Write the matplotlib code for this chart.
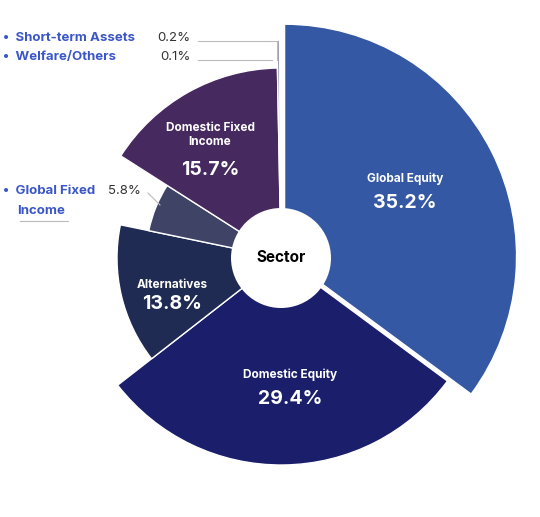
import numpy as np
import matplotlib
matplotlib.use("Agg")
import matplotlib.pyplot as plt
from matplotlib.patches import Wedge, Circle

sectors = ["Global Equity", "Domestic Equity", "Alternatives", "Global Fixed\nIncome",
           "Domestic Fixed\nIncome", "Short-term Assets", "Welfare/Others"]
shares = [35.2, 29.4, 13.8, 5.8, 15.7, 0.2, 0.1]
radii = [232, 207, 164, 135, 190, 218, 218]
colors = ["#3458a4", "#1b1f6b", "#1f2b52", "#3f4466", "#45295f", "#9a9eb0", "#2a2a3a"]

plt.rcParams['font.family'] = ['Inter', 'DejaVu Sans']
fig = plt.figure(figsize=(5.4, 5.17), dpi=100)
ax = fig.add_axes([0, 0, 1, 1])
ax.set_xlim(0, 540)
ax.set_ylim(0, 517)
ax.set_aspect('equal')
ax.axis('off')

cx, cy = 281, 259
total = sum(shares)
start = 90.0
for i, (v, r, c) in enumerate(zip(shares, radii, colors)):
    sweep = v / total * 360
    t1, t2 = start - sweep, start
    mid = np.radians((t1 + t2) / 2)
    off = 4 if i == 0 else 0
    ox, oy = cx + off * np.cos(mid), cy + off * np.sin(mid)
    ax.add_patch(Wedge((ox, oy), r, t1, t2, facecolor=c, edgecolor='white', linewidth=1.0))
    start = t1

ax.add_patch(Circle((cx, cy), 50, facecolor='white', edgecolor='none', zorder=5))
ax.text(cx, cy, "Sector", ha='center', va='center', fontsize=11, fontweight='bold', zorder=6)

inner = [(405, 179, 24), (290, 375, 24), (172, 285, 19), None, (210, 135, 35)]
for i, pos in enumerate(inner):
    if pos is None:
        continue
    x, y, gap = pos
    ax.text(x, 517 - y, sectors[i], ha='center', va='center', color='white', fontsize=8.5,
            fontweight='bold', linespacing=1.3)
    ax.text(x, 517 - y - gap, f"{shares[i]}%", ha='center', va='center', color='white',
            fontsize=14, fontweight='bold')

lab = '#3a56c8'
line = '#bbbbbb'
ax.text(3, 517 - 38, "•  Short-term Assets", color=lab, fontsize=9.5, va='center', fontweight='bold')
ax.text(157, 517 - 38, "0.2%", color='#333333', fontsize=9.5, va='center')
ax.text(3, 517 - 57, "•  Welfare/Others", color=lab, fontsize=9.5, va='center', fontweight='bold')
ax.text(160, 517 - 57, "0.1%", color='#333333', fontsize=9.5, va='center')
ax.plot([198, 277, 277], [517 - 41, 517 - 41, 517 - 60], color=line, lw=0.8)
ax.plot([198, 272], [517 - 60, 517 - 60], color=line, lw=0.8)
ax.text(3, 517 - 191, "•  Global Fixed", color=lab, fontsize=9.5, va='center', fontweight='bold')
ax.text(108, 517 - 191, "5.8%", color='#333333', fontsize=9.5, va='center')
ax.text(17, 517 - 211, "Income", color=lab, fontsize=9.5, va='center', fontweight='bold')
ax.plot([20, 68], [517 - 221, 517 - 221], color=line, lw=0.8)
ax.plot([148, 160], [517 - 193, 517 - 205], color=line, lw=0.8)

fig.savefig("out.png", dpi=100)
